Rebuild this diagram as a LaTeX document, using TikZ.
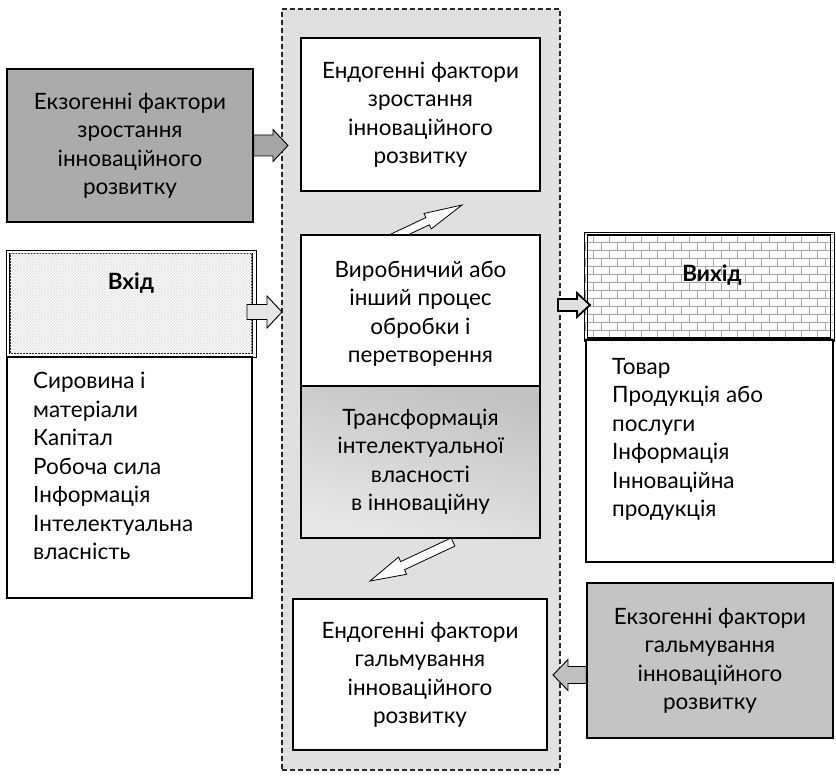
\documentclass[tikz,border=0pt]{standalone}
\usepackage{fontspec}
\setmainfont{Lato}
\usetikzlibrary{calc,patterns}

\definecolor{regionfill}{HTML}{E0E0E0}
\definecolor{exoup}{HTML}{ABABAB}
\definecolor{exodown}{HTML}{C4C4C4}
\definecolor{brickline}{HTML}{A8A8A8}

% block arrow from #2 to #3: #4 shaft half width, #5 head half width, #6 head length
\newcommand\blockarrow[6]{%
  \coordinate (ba-base) at ($(#3)!#6!(#2)$);
  \draw[#1] ($(#2)!#4!90:(#3)$) -- ($(ba-base)!#4!-90:(#2)$)
    -- ($(ba-base)!#5!-90:(#2)$) -- (#3)
    -- ($(ba-base)!#5!90:(#2)$) -- ($(ba-base)!#4!90:(#2)$)
    -- ($(#2)!#4!-90:(#3)$) -- cycle;
}

\tikzset{
  txt/.style={font=\fontsize{22.5}{28.5}\selectfont},
  boldtxt/.style={font=\fontsize{22.5}{28.5}\selectfont\bfseries},
  box/.style={draw=black, line width=1.2pt, rectangle, inner sep=0pt, txt, align=center},
  brick/.style={draw=brickline, line width=0.9pt},
  barrow/.style={draw=black, line width=0.9pt, line join=miter},
}

\begin{document}
\begin{tikzpicture}[x=1pt, y=-1pt]
\useasboundingbox (0,0) rectangle (836,781);

% dashed process area
\node[draw=black!85, dash pattern=on 5pt off 3pt, line width=1.1pt, fill=regionfill, minimum width=278pt, minimum height=761pt, inner sep=0pt] (region) at (421,389.5) {};

% diagonal arrows inside the process area
\coordinate (upT) at (392,238);
\coordinate (upH) at (462,205);
\blockarrow{barrow, fill=white, line width=0.8pt}{upT}{upH}{4pt}{8.5pt}{38pt}
\coordinate (dnT) at (453,542);
\coordinate (dnH) at (370,581);
\blockarrow{barrow, fill=white, line width=0.8pt}{dnT}{dnH}{4.5pt}{9.5pt}{36pt}

% central boxes
\node[box, fill=white, minimum width=239pt, minimum height=153pt] (endoUp) at (420.5,114.5)
  {Ендогенні фактори\\зростання\\інноваційного\\розвитку};
\node[box, fill=white, minimum width=239pt, minimum height=151pt] (proc) at (420.5,310.5)
  {\\[-6pt]Виробничий або\\інший процес\\обробки і\\перетворення};
\node[box, top color=black!24, bottom color=black!9, shading angle=-15, minimum width=239pt, minimum height=152pt] (transf) at (420.5,462)
  {Трансформація\\інтелектуальної\\власності\\в інноваційну};
\node[box, fill=white, minimum width=254pt, minimum height=151pt] (endoDown) at (420,674.5)
  {Ендогенні фактори\\гальмування\\інноваційного\\розвитку};

% left column
\node[box, fill=exoup, minimum width=246pt, minimum height=153pt] (exoUp) at (130,145.5)
  {Екзогенні фактори\\зростання\\інноваційного\\розвитку};

\node[draw=black, line width=0.7pt, rectangle, minimum width=250pt, minimum height=107pt, inner sep=0pt] (inOuter) at (131,303.5) {};
\node[draw=black, line width=1.6pt, rectangle, fill=white, minimum width=242pt, minimum height=100pt, inner sep=0pt,
  postaction={pattern=crosshatch, pattern color=black!11}] (inBox) at (131,303.5) {};
\node[boldtxt] (inLbl) at (131,283) {Вхід};

\node[draw=black, line width=1.2pt, rectangle, fill=white, minimum width=245pt, minimum height=241pt, inner sep=0pt] (inList) at (129.5,477.5) {};
\node[txt, align=left, anchor=north west, inner sep=0pt] (inTxt) at (33,372)
  {Сировина і\\матеріали\\Капітал\\Робоча сила\\Інформація\\Інтелектуальна\\власність};

% right column
\node[draw=black, line width=0.7pt, rectangle, fill=white, minimum width=250pt, minimum height=109pt, inner sep=0pt] (outOuter) at (709,286.5) {};
\begin{scope}
  \clip (585,233) rectangle (833,340);
  \foreach \r in {0,...,13}{
    \pgfmathsetmacro\yy{234+8*\r}
    \pgfmathsetmacro\off{mod(\r,2)*8}
    \draw[brick] (585,\yy) -- (833,\yy);
    \foreach \c in {0,...,16}{
      \draw[brick] ({577+\off+16*\c},\yy) -- ++(0,8);
    }
  }
\end{scope}
\node[draw=black, line width=1.6pt, rectangle, minimum width=243pt, minimum height=103pt, inner sep=0pt] (outBox) at (709,286.5) {};
\node[boldtxt] (outLbl) at (712,275) {Вихід};

\node[draw=black, line width=1.2pt, rectangle, fill=white, minimum width=247pt, minimum height=222pt, inner sep=0pt] (outList) at (709.5,451) {};
\node[txt, align=left, anchor=north west, inner sep=0pt] (outTxt) at (612,358)
  {Товар\\Продукція або\\послуги\\Інформація\\Інноваційна\\продукція};

\node[box, fill=exodown, minimum width=246pt, minimum height=155pt] (exoDown) at (710,660.5)
  {Екзогенні фактори\\гальмування\\інноваційного\\розвитку};

% block arrows between the columns and the process area
\coordinate (a1s) at (exoUp.east);
\coordinate (a1e) at (288,145.5);
\blockarrow{barrow, fill=black!35}{a1s}{a1e}{10.5pt}{16pt}{15pt}

\coordinate (a2s) at (247,312);
\coordinate (a2e) at (282,312);
\blockarrow{barrow, fill=black!10}{a2s}{a2e}{7.5pt}{16pt}{15pt}

\coordinate (a3s) at (558,305);
\coordinate (a3e) at (590,305);
\blockarrow{barrow, fill=black!12, line width=1.8pt}{a3s}{a3e}{6pt}{12pt}{13pt}

\coordinate (a4s) at (exoDown.west |- 0,675);
\coordinate (a4e) at (553,675);
\blockarrow{barrow, fill=black!25}{a4s}{a4e}{8.5pt}{15.5pt}{15pt}
\end{tikzpicture}
\end{document}
